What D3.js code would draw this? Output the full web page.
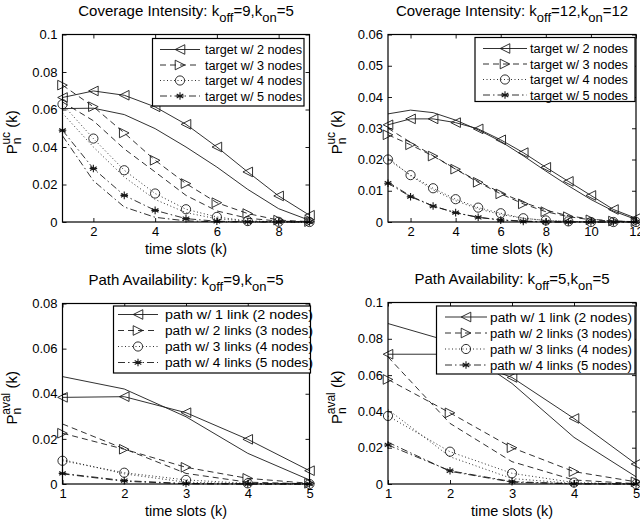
<!DOCTYPE html>
<html><head><meta charset="utf-8">
<script src="https://cdn.jsdelivr.net/npm/d3@7"></script>
<style>
body{margin:0;background:#fff;}
svg{display:block;font-family:"Liberation Sans",Arial,Helvetica,sans-serif;}
</style></head>
<body><svg id="c" width="640" height="527"></svg>
<script>
// ---------- DATA ----------
// Panel A: Coverage Intensity k_off=9, k_on=5
const kA = [1,2,3,4,5,6,7,8,9];
const a2sim = [0.0664,0.0699,0.0676,0.0614,0.0521,0.0400,0.0267,0.0139,0.0036];
const a2ana = [0.0605,0.0607,0.0573,0.0498,0.0400,0.0293,0.0174,0.0071,0.0009];
const a3sim = [0.0730,0.0615,0.0475,0.0329,0.0205,0.0103,0.0045,0.0010,0.0002];
const a3ana = [0.0640,0.0540,0.0390,0.0267,0.0142,0.0059,0.0020,0.0005,0.0000];
const a4sim = [0.0628,0.0445,0.0276,0.0152,0.0068,0.0027,0.0005,0.0001,0.0000];
const a4ana = [0.0580,0.0400,0.0240,0.0120,0.0050,0.0017,0.0005,0.0001,0.0000];
const a5sim = [0.0489,0.0285,0.0142,0.0062,0.0018,0.0004,0.0001,0.0000,0.0000];
const a5ana = [0.0460,0.0220,0.0080,0.0025,0.0006,0.0001,0.0000,0.0000,0.0000];
// Panel B: Coverage Intensity k_off=12, k_on=12
const kB = [1,2,3,4,5,6,7,8,9,10,11,12];
const b2sim = [0.0311,0.0330,0.0330,0.0318,0.0298,0.0263,0.0222,0.0175,0.0130,0.0085,0.0040,0.0012];
const b2ana = [0.0346,0.0358,0.0350,0.0326,0.0295,0.0258,0.0212,0.0163,0.0116,0.0072,0.0035,0.0008];
const b3sim = [0.0279,0.0247,0.0211,0.0169,0.0127,0.0090,0.0058,0.0033,0.0017,0.0007,0.0003,0.0001];
const b3ana = [0.0300,0.0255,0.0212,0.0170,0.0130,0.0094,0.0063,0.0038,0.0020,0.0009,0.0003,0.0001];
const b4sim = [0.0200,0.0150,0.0108,0.0073,0.0046,0.0028,0.0012,0.0005,0.0002,0.0000,0.0000,0.0000];
const b4ana = [0.0205,0.0148,0.0103,0.0068,0.0042,0.0024,0.0012,0.0005,0.0002,0.0001,0.0000,0.0000];
const b5sim = [0.0124,0.0081,0.0051,0.0030,0.0015,0.0006,0.0002,0.0000,0.0000,0.0000,0.0000,0.0000];
const b5ana = [0.0128,0.0083,0.0051,0.0029,0.0015,0.0007,0.0003,0.0001,0.0000,0.0000,0.0000,0.0000];
// Panel C: Path Availability k_off=9, k_on=5
const kC = [1,2,3,4,5];
const c1sim = [0.0384,0.0387,0.0316,0.0198,0.0059];
const c1ana = [0.0476,0.0421,0.0298,0.0136,0.0018];
const c2sim = [0.0225,0.0154,0.0074,0.0025,0.0003];
const c2ana = [0.0266,0.0156,0.0047,0.0008,0.0001];
const c3sim = [0.0103,0.0050,0.0018,0.0003,0.0000];
const c3ana = [0.0108,0.0045,0.0008,0.0001,0.0000];
const c4sim = [0.0047,0.0015,0.0002,0.0000,0.0000];
const c4ana = [0.0045,0.0012,0.0001,0.0000,0.0000];
// Panel D: Path Availability k_off=5, k_on=5
const kD = [1,2,3,4,5];
const d1sim = [0.0715,0.0715,0.0587,0.0361,0.0110];
const d1ana = [0.0884,0.0785,0.0554,0.0257,0.0040];
const d2sim = [0.0576,0.0392,0.0200,0.0068,0.0012];
const d2ana = [0.0700,0.0334,0.0123,0.0022,0.0002];
const d3sim = [0.0375,0.0178,0.0059,0.0008,0.0000];
const d3ana = [0.0410,0.0150,0.0030,0.0003,0.0000];
const d4sim = [0.0215,0.0073,0.0013,0.0001,0.0000];
const d4ana = [0.0230,0.0070,0.0010,0.0001,0.0000];

const legendCI = ["target w/ 2 nodes","target w/ 3 nodes","target w/ 4 nodes","target w/ 5 nodes"];
const legendPA = ["path w/ 1 link (2 nodes)","path w/ 2 links (3 nodes)","path w/ 3 links (4 nodes)","path w/ 4 links (5 nodes)"];
const ticksA_x = [2,4,6,8], ticksA_y = [0,0.02,0.04,0.06,0.08,0.1];
const ticksB_x = [2,4,6,8,10,12], ticksB_y = [0,0.01,0.02,0.03,0.04,0.05,0.06];
const ticksC_x = [1,2,3,4,5], ticksC_y = [0,0.02,0.04,0.06,0.08];
const ticksD_x = [1,2,3,4,5], ticksD_y = [0,0.02,0.04,0.06,0.08,0.1];

// ---------- DRAW ----------
const svg = d3.select("#c");
const dashes = ["none","6,4","1,2.5","7,3,1.5,3"];
const markers = ["tl","tr","circle","star"];
const LC = "#1a1a1a";

function drawMarker(g, type, x, y){
  const s = 4.8;
  if(type==="tl"){
    g.append("path").attr("d",`M${x-s},${y}L${x+s},${y-s}L${x+s},${y+s}Z`)
     .attr("fill","none").attr("stroke",LC).attr("stroke-width",0.9);
  } else if(type==="tr"){
    g.append("path").attr("d",`M${x+s},${y}L${x-s},${y-s}L${x-s},${y+s}Z`)
     .attr("fill","none").attr("stroke",LC).attr("stroke-width",0.9);
  } else if(type==="circle"){
    g.append("circle").attr("cx",x).attr("cy",y).attr("r",4.6)
     .attr("fill","none").attr("stroke",LC).attr("stroke-width",0.9);
  } else {
    const r=3.8; let d="";
    for(let i=0;i<3;i++){const a=Math.PI/2+i*Math.PI/3;
      d+=`M${x-r*Math.cos(a)},${y-r*Math.sin(a)}L${x+r*Math.cos(a)},${y+r*Math.sin(a)}`;}
    d+=`M${x-r},${y}L${x+r},${y}`;
    g.append("path").attr("d",d).attr("stroke",LC).attr("stroke-width",1.1);
  }
}

function panel(o){
  const g = svg.append("g");
  const x = d3.scaleLinear().domain(o.xd).range([o.x0,o.x1]);
  const y = d3.scaleLinear().domain(o.yd).range([o.y1,o.y0]);
  const line = d3.line().x((d,i)=>x(o.k[i])).y(d=>y(d));
  o.series.forEach((s,i)=>{
    g.append("path").attr("d",line(s.ana)).attr("fill","none").attr("stroke",LC)
      .attr("stroke-width",0.9).attr("stroke-dasharray",dashes[i]==="none"?null:dashes[i]);
    g.append("path").attr("d",line(s.sim)).attr("fill","none").attr("stroke",LC)
      .attr("stroke-width",0.9).attr("stroke-dasharray",dashes[i]==="none"?null:dashes[i]);
    s.sim.forEach((v,j)=>drawMarker(g,markers[i],x(o.k[j]),y(v)));
  });
  const fmt = v => v===0 ? "0" : d3.format(".2~f")(v);
  const ax = g.append("g");
  const xb = d3.axisBottom(x).tickValues(o.xt).tickSizeInner(-4).tickSizeOuter(0).tickPadding(5).tickFormat(d3.format("d"));
  const xt = d3.axisTop(x).tickValues(o.xt).tickSizeInner(-4).tickSizeOuter(0).tickFormat("");
  const yl = d3.axisLeft(y).tickValues(o.yt).tickSizeInner(-4).tickSizeOuter(0).tickPadding(5).tickFormat(fmt);
  const yr = d3.axisRight(y).tickValues(o.yt).tickSizeInner(-4).tickSizeOuter(0).tickFormat("");
  [ [xb,`translate(0,${o.y1})`],[xt,`translate(0,${o.y0})`],[yl,`translate(${o.x0},0)`],[yr,`translate(${o.x1},0)`] ]
   .forEach(([a,t])=>{
     const gg=ax.append("g").attr("transform",t).call(a);
     gg.select(".domain").remove();
     gg.selectAll("line").attr("stroke","#000").attr("stroke-width",0.9);
     gg.selectAll("text").attr("font-size",13).attr("fill","#000").attr("font-family","Liberation Sans, Arial, sans-serif");
   });
  g.append("rect").attr("x",o.x0).attr("y",o.y0).attr("width",o.x1-o.x0).attr("height",o.y1-o.y0)
    .attr("fill","none").attr("stroke","#000").attr("stroke-width",1.2);
  // legend
  const L = o.leg;
  g.append("rect").attr("x",L.x).attr("y",L.y).attr("width",L.w).attr("height",L.h)
    .attr("fill","#fff").attr("stroke","#000").attr("stroke-width",1.2);
  L.labels.forEach((t,i)=>{
    const yy = L.y + L.r0 + i*L.dr;
    g.append("line").attr("x1",L.lx0).attr("x2",L.lx1).attr("y1",yy).attr("y2",yy)
      .attr("stroke",LC).attr("stroke-width",0.9).attr("stroke-dasharray",dashes[i]==="none"?null:dashes[i]);
    drawMarker(g,markers[i],(L.lx0+L.lx1)/2,yy);
    g.append("text").attr("x",L.tx).attr("y",yy+4.5).attr("font-size",12.5)
      .attr("textLength",L.tl).attr("lengthAdjust","spacingAndGlyphs").text(t);
  });
  // title
  const cx = (o.x0+o.x1)/2;
  const tt = g.append("text").attr("x",cx).attr("y",o.y0-19).attr("text-anchor","middle").attr("font-size",15);
  tt.append("tspan").text(o.title+"  k");
  tt.append("tspan").attr("dy",6).attr("font-size",13).text("off");
  tt.append("tspan").attr("dy",-6).text("="+o.koff+",k");
  tt.append("tspan").attr("dy",6).attr("font-size",13).text("on");
  tt.append("tspan").attr("dy",-6).text("="+o.kon);
  // x label
  g.append("text").attr("x",cx).attr("y",o.y1+32).attr("text-anchor","middle").attr("font-size",14.5).text("time slots (k)");
  // y label
  const cy=(o.y0+o.y1)/2;
  const yg = g.append("g").attr("transform",`translate(${o.x0-46},${cy+4}) rotate(-90)`);
  const yt = yg.append("text").attr("text-anchor","middle").attr("font-size",15);
  yt.append("tspan").text("P");
  yt.append("tspan").attr("font-size",12).attr("dy",4).text("n");
  yt.append("tspan").attr("font-size",12).attr("dx",-7).attr("dy",-11).text(o.sup);
  yt.append("tspan").attr("dy",7).text(" (k)");
}

panel({x0:62.5,x1:309.5,y0:34.5,y1:222,xd:[1,9],yd:[0,0.1],k:kA,xt:ticksA_x,yt:ticksA_y,
  series:[{sim:a2sim,ana:a2ana},{sim:a3sim,ana:a3ana},{sim:a4sim,ana:a4ana},{sim:a5sim,ana:a5ana}],
  leg:{x:152.5,y:38.5,w:151.5,h:67.5,r0:11,dr:15.5,lx0:160,lx1:200,tx:205,tl:97,labels:legendCI},
  title:"Coverage Intensity:",koff:9,kon:5,sup:"uc"});
panel({x0:388,x1:636,y0:34.5,y1:222,xd:[1,12],yd:[0,0.06],k:kB,xt:ticksB_x,yt:ticksB_y,
  series:[{sim:b2sim,ana:b2ana},{sim:b3sim,ana:b3ana},{sim:b4sim,ana:b4ana},{sim:b5sim,ana:b5ana}],
  leg:{x:475,y:37.5,w:160,h:64,r0:11,dr:15.5,lx0:483,lx1:527,tx:530,tl:98,labels:legendCI},
  title:"Coverage Intensity:",koff:12,kon:12,sup:"uc"});
panel({x0:62.5,x1:309.5,y0:303.5,y1:484,xd:[1,5],yd:[0,0.08],k:kC,xt:ticksC_x,yt:ticksC_y,
  series:[{sim:c1sim,ana:c1ana},{sim:c2sim,ana:c2ana},{sim:c3sim,ana:c3ana},{sim:c4sim,ana:c4ana}],
  leg:{x:113.5,y:306,w:197,h:67,r0:8.5,dr:16,lx0:118,lx1:158,tx:165,tl:148,labels:legendPA},
  title:"Path Availability:",koff:9,kon:5,sup:"aval"});
panel({x0:388,x1:636,y0:302.5,y1:484,xd:[1,5],yd:[0,0.1],k:kD,xt:ticksD_x,yt:ticksD_y,
  series:[{sim:d1sim,ana:d1ana},{sim:d2sim,ana:d2ana},{sim:d3sim,ana:d3ana},{sim:d4sim,ana:d4ana}],
  leg:{x:436.5,y:306,w:198.5,h:68,r0:11,dr:16,lx0:445,lx1:487,tx:490,tl:142,labels:legendPA},
  title:"Path Availability:",koff:5,kon:5,sup:"aval"});
</script></body></html>
